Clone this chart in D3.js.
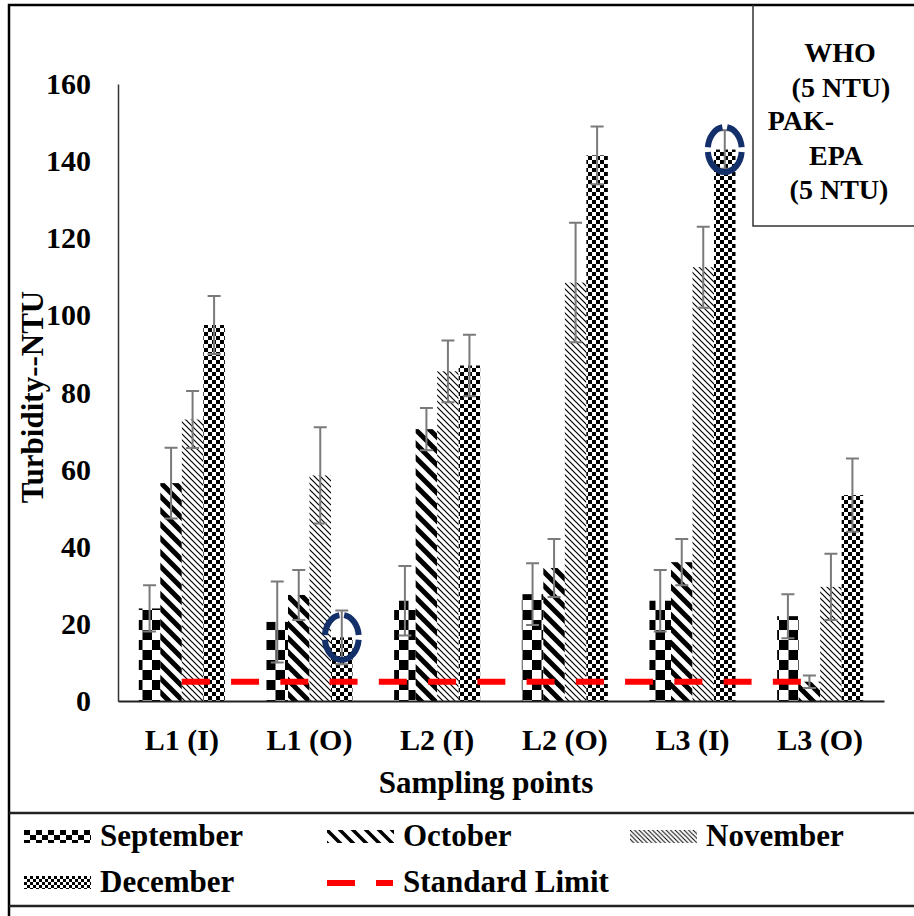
<!DOCTYPE html>
<html lang="en">
<head>
<meta charset="utf-8">
<title>Turbidity by sampling point</title>
<script src="https://d3js.org/d3.v7.min.js"></script>
<style>
  body { margin: 0; background: #fff; }
  text { font-family: "Liberation Serif", "Times New Roman", serif; font-weight: bold; fill: #000; }
</style>
</head>
<body>
<script>

var categories = ["L1 (I)", "L1 (O)", "L2 (I)", "L2 (O)", "L3 (I)", "L3 (O)"];
var months = ["September", "October", "November", "December"];

var sepValues = [24, 20.5, 26, 27.7, 26, 22];
var sepErrors = [6, 10.5, 9, 8, 8, 5.7];
var octValues = [56.5, 27.5, 70.5, 34.5, 36, 5];
var octErrors = [9.2, 6.5, 5.5, 7.5, 6, 1.6];
var novValues = [73, 58.5, 85.5, 108.5, 112.5, 29.6];
var novErrors = [7.4, 12.5, 8, 15.5, 10.5, 8.6];
var decValues = [97.5, 16.5, 87, 141.5, 143, 53.4];
var decErrors = [7.5, 7, 8, 7.5, 5, 9.5];

var limitValues = [5, 5, 5, 5, 5, 5];
var yTicks = [0, 20, 40, 60, 80, 100, 120, 140, 160];

// bars circled in the original figure
var circled = [["L1 (O)", "December"], ["L3 (I)", "December"]];

var noteLines = ["WHO", "(5 NTU)", "PAK-", "EPA", "(5 NTU)"];

var w = 914, h = 916;
var plotLeft = 118, plotRight = 884, plotTop = 84, plotBottom = 701;

var series = months.map(function(m, i) {
    var vals = [sepValues, octValues, novValues, decValues][i];
    var errs = [sepErrors, octErrors, novErrors, decErrors][i];
    return { name: m, rows: categories.map(function(c, j) {
        return { cat: c, month: m, value: vals[j], err: errs[j] };
    }) };
});

var svg = d3.select("body").append("svg")
    .attr("width", w)
    .attr("height", h);

svg.append("rect").attr("width", w).attr("height", h).attr("fill", "#fff");

// fill patterns
var defs = svg.append("defs");

function checker(id, cw, ch) {
    var p = defs.append("pattern").attr("id", id)
        .attr("patternUnits", "userSpaceOnUse")
        .attr("width", cw * 2).attr("height", ch * 2);
    p.append("rect").attr("width", cw * 2).attr("height", ch * 2).attr("fill", "#fff");
    p.append("rect").attr("width", cw).attr("height", ch).attr("fill", "#000");
    p.append("rect").attr("x", cw).attr("y", ch).attr("width", cw).attr("height", ch).attr("fill", "#000");
}

function hatch(id, s, sw) {
    var p = defs.append("pattern").attr("id", id)
        .attr("patternUnits", "userSpaceOnUse")
        .attr("width", s).attr("height", s);
    p.append("rect").attr("width", s).attr("height", s).attr("fill", "#fff");
    p.append("path")
        .attr("d", "M0,0L" + s + "," + s +
                   "M" + (-s / 2) + "," + (s / 2) + "L" + (s / 2) + "," + (s * 1.5) +
                   "M" + (s / 2) + "," + (-s / 2) + "L" + (s * 1.5) + "," + (s / 2))
        .attr("stroke", "#000")
        .attr("stroke-width", sw);
}

checker("pSep", 9.5, 10);
hatch("pOct", 14, 5);
hatch("pNov", 6, 1.2);
checker("pDec", 4, 4);
checker("lSep", 6, 5);
hatch("lOct", 13, 3.5);
hatch("lNov", 4.5, 1);
checker("lDec", 3, 3);

var fills = { September: "pSep", October: "pOct", November: "pNov", December: "pDec" };
var legendFills = { September: "lSep", October: "lOct", November: "lNov", December: "lDec" };

var xScale = d3.scaleBand()
    .domain(categories)
    .range([plotLeft, plotRight]);

var inner = d3.scaleBand()
    .domain(months)
    .range([xScale.bandwidth() * 0.163, xScale.bandwidth() * 0.837]);

var yScale = d3.scaleLinear()
    .domain([0, 160])
    .range([plotBottom, plotTop]);

// bars
var groups = svg.selectAll("g.series")
    .data(series)
    .enter()
    .append("g")
    .attr("class", "series");

groups.selectAll("rect")
    .data(function(d) { return d.rows; })
    .enter()
    .append("rect")
    .attr("x", function(d) { return xScale(d.cat) + inner(d.month); })
    .attr("y", function(d) { return yScale(d.value); })
    .attr("width", inner.bandwidth())
    .attr("height", function(d) { return yScale(0) - yScale(d.value); })
    .attr("fill", function(d) { return "url(#" + fills[d.month] + ")"; });

// error bars
var allRows = series.flatMap(function(s) { return s.rows; });
var cx = function(d) { return xScale(d.cat) + inner(d.month) + inner.bandwidth() / 2; };
var cap = 6.5;

var errG = svg.append("g")
    .attr("stroke", "#7a7a7a")
    .attr("stroke-width", 2)
    .attr("fill", "none");

errG.selectAll("path")
    .data(allRows)
    .enter()
    .append("path")
    .attr("d", function(d) {
        var x = cx(d), y1 = yScale(d.value + d.err), y0 = yScale(Math.max(0, d.value - d.err));
        return "M" + x + "," + y0 + "V" + y1 +
               "M" + (x - cap) + "," + y1 + "H" + (x + cap) +
               "M" + (x - cap) + "," + y0 + "H" + (x + cap);
    });

// axes
var yAxis = d3.axisLeft(yScale).tickValues(yTicks).tickSize(0).tickPadding(27);
var xAxis = d3.axisBottom(xScale).tickSize(0).tickPadding(28);

var gy = svg.append("g")
    .attr("transform", "translate(" + plotLeft + ",0)")
    .call(yAxis);
gy.select(".domain").attr("stroke", "#333").attr("stroke-width", 1.5);
gy.selectAll("text").attr("font-family", null).style("font-size", "30px");

var gx = svg.append("g")
    .attr("transform", "translate(0," + plotBottom + ")")
    .call(xAxis);
gx.select(".domain").attr("stroke", "#222").attr("stroke-width", 2);
gx.selectAll("text").attr("font-family", null).style("font-size", "30px");

svg.append("text")
    .attr("transform", "rotate(-90)")
    .attr("x", -397)
    .attr("y", 43)
    .attr("text-anchor", "middle")
    .style("font-size", "31px")
    .text("Turbidity--NTU");

svg.append("text")
    .attr("x", 486)
    .attr("y", 793)
    .attr("text-anchor", "middle")
    .style("font-size", "31px")
    .text("Sampling points");

// standard limit line
var limitLine = d3.line()
    .x(function(d, i) { return xScale(categories[i]) + xScale.bandwidth() / 2; })
    .y(function(d) { return yScale(d); });

svg.append("path")
    .datum(limitValues)
    .attr("d", limitLine)
    .attr("fill", "none")
    .attr("stroke", "#ff0000")
    .attr("stroke-width", 6)
    .attr("stroke-dasharray", "28,21.25");

// dashed rings around the highlighted bars
svg.selectAll("ellipse.ring")
    .data(circled)
    .enter()
    .append("ellipse")
    .attr("class", "ring")
    .attr("cx", function(d) {
        return xScale(d[0]) + inner(d[1]) + inner.bandwidth() / 2;
    })
    .attr("cy", function(d) {
        var s = series.find(function(s) { return s.name === d[1]; });
        var r = s.rows.find(function(r) { return r.cat === d[0]; });
        return yScale(r.value);
    })
    .attr("rx", 17)
    .attr("ry", 22.5)
    .attr("fill", "none")
    .attr("stroke", "#13306a")
    .attr("stroke-width", 6)
    .each(function() {
        var P = this.getTotalLength ? this.getTotalLength() : 125;
        var g = 5;
        d3.select(this)
            .attr("stroke-dasharray", [P / 2 - g, g, P / 4 - g, g, P / 4 - g, g].join(","))
            .attr("stroke-dashoffset", -g / 2);
    });

// frame lines
var frame = svg.append("g").attr("fill", "none");
frame.append("path").attr("d", "M9,916V5H914").attr("stroke", "#000").attr("stroke-width", 2.5);
frame.append("path").attr("d", "M753,5V226H914").attr("stroke", "#333").attr("stroke-width", 1.5);
frame.append("path").attr("d", "M9,813H914M9,906H914").attr("stroke", "#222").attr("stroke-width", 2.5);

// note box
var noteX = [840, 841, 801, 836, 839];
var noteY = [62, 97, 130, 165, 199];
svg.selectAll("text.note")
    .data(noteLines)
    .enter()
    .append("text")
    .attr("class", "note")
    .attr("x", function(d, i) { return noteX[i]; })
    .attr("y", function(d, i) { return noteY[i]; })
    .attr("text-anchor", "middle")
    .style("font-size", "28px")
    .text(function(d) { return d; });

// legend
var legendItems = months.concat(["Standard Limit"]);
var legendPos = [[24, 830], [327, 830], [630, 830], [24, 876], [327, 876]];

var lg = svg.selectAll("g.legend")
    .data(legendItems)
    .enter()
    .append("g")
    .attr("class", "legend")
    .attr("transform", function(d, i) { return "translate(" + legendPos[i][0] + "," + legendPos[i][1] + ")"; });

lg.filter(function(d) { return d !== "Standard Limit"; })
    .append("rect")
    .attr("width", 67)
    .attr("height", 13)
    .attr("fill", function(d) { return "url(#" + legendFills[d] + ")"; });

lg.filter(function(d) { return d === "Standard Limit"; })
    .append("line")
    .attr("x1", 0).attr("x2", 66)
    .attr("y1", 7).attr("y2", 7)
    .attr("stroke", "#ff0000")
    .attr("stroke-width", 6)
    .attr("stroke-dasharray", "28,21");

lg.append("text")
    .attr("x", 76)
    .attr("y", 16)
    .style("font-size", "31px")
    .text(function(d) { return d; });

</script>
</body>
</html>
